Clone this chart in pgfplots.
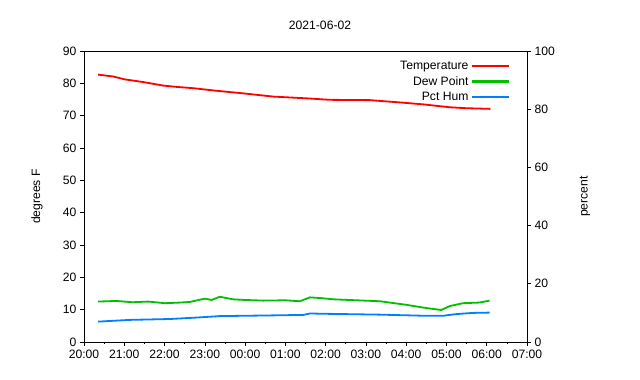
\documentclass[border=0pt]{standalone}
\usepackage{fontspec}
\setmainfont{Liberation Sans}
\usepackage{pgfplots}
\pgfplotsset{compat=1.18}
\definecolor{gpred}{RGB}{255,0,0}
\definecolor{gpgreen}{RGB}{0,192,0}
\definecolor{gpblue}{RGB}{0,128,255}
\begin{document}
\begin{tikzpicture}[font=\fontsize{12.2}{14}\selectfont]
\path[use as bounding box] (0,0) rectangle (640bp,380bp);
\node at (320bp,355bp) {2021-06-02};
\pgfplotsset{
  common/.style={
    at={(84bp,38bp)}, anchor=south west, scale only axis,
    width=443bp, height=291bp,
    xmin=0, xmax=11,
    tick align=outside,
    major tick length=4bp, minor tick length=2bp,
    /pgf/number format/assume math mode=true,
    tick label style={font=\fontsize{12.2}{14}\selectfont},
    axis line style={line width=0.8bp},
    every tick/.style={black, line width=0.6bp},
  }
}
\begin{axis}[common,
  ymin=0, ymax=90,
  ytick={0,10,...,90},
  xtick={0,1,...,11},
  minor x tick num=1,
  xticklabels={20:00,21:00,22:00,23:00,00:00,01:00,02:00,03:00,04:00,05:00,06:00,07:00},
  xtick pos=bottom, ytick pos=left,
  ylabel={degrees F},
  ylabel style={at={(axis description cs:-0.106,0.5)}, anchor=center, rotate=0},
]
\addplot[gpred, line width=1.8bp] coordinates {
(0.35,82.7) (0.73,82.1) (1.02,81.2) (1.47,80.4) (1.97,79.3) (2.30,78.9) (2.71,78.5)
(3.29,77.7) (3.95,76.9) (4.70,75.9) (5.61,75.3) (6.10,74.9) (7.10,74.8)
(7.84,74.1) (8.42,73.5) (9.08,72.6) (9.50,72.3) (10.09,72.1)
};
\addplot[gpgreen, line width=1.8bp] coordinates {
(0.35,12.5) (0.80,12.7) (1.20,12.3) (1.60,12.5) (2.00,12.0) (2.40,12.2) (2.63,12.4)
(3.00,13.4) (3.17,13.0) (3.37,14.0) (3.70,13.2) (4.00,13.0) (4.45,12.8) (5.00,12.9)
(5.36,12.6) (5.61,13.8) (5.86,13.6) (6.19,13.2) (7.35,12.6) (8.00,11.5)
(8.50,10.5) (8.87,9.9) (9.08,11.1) (9.41,12.0) (9.82,12.2) (10.07,12.8)
};
\end{axis}
\begin{axis}[common,
  ymin=0, ymax=100,
  ytick={0,20,...,100},
  axis y line*=right, axis x line=none,
  ylabel={percent},
  ylabel style={at={(axis description cs:1.131,0.5)}, anchor=center, rotate=0},
  legend plot pos=right,
  legend cell align=right,
  legend style={draw=none, fill=none, at={(axis description cs:0.968,0.980)}, anchor=north east,
    font=\fontsize{12.2}{14}\selectfont, row sep=1.5bp},
  legend image code/.code={\draw[#1, line width=2.2bp] (0bp,0bp) -- (37bp,0bp);},
]
\addlegendimage{gpred}
\addlegendentry{Temperature}
\addlegendimage{gpgreen}
\addlegendentry{Dew Point}
\addplot[gpblue, line width=1.8bp] coordinates {
(0.35,7.0) (1.14,7.6) (2.13,7.9) (2.80,8.4) (3.37,8.9) (4.45,9.1) (5.44,9.3)
(5.61,9.8) (5.94,9.7) (7.35,9.4) (8.50,9.0) (8.91,9.0) (9.25,9.6) (9.66,10.0) (10.07,10.1)
};
\addlegendentry{Pct Hum}
\end{axis}
\end{tikzpicture}
\end{document}
